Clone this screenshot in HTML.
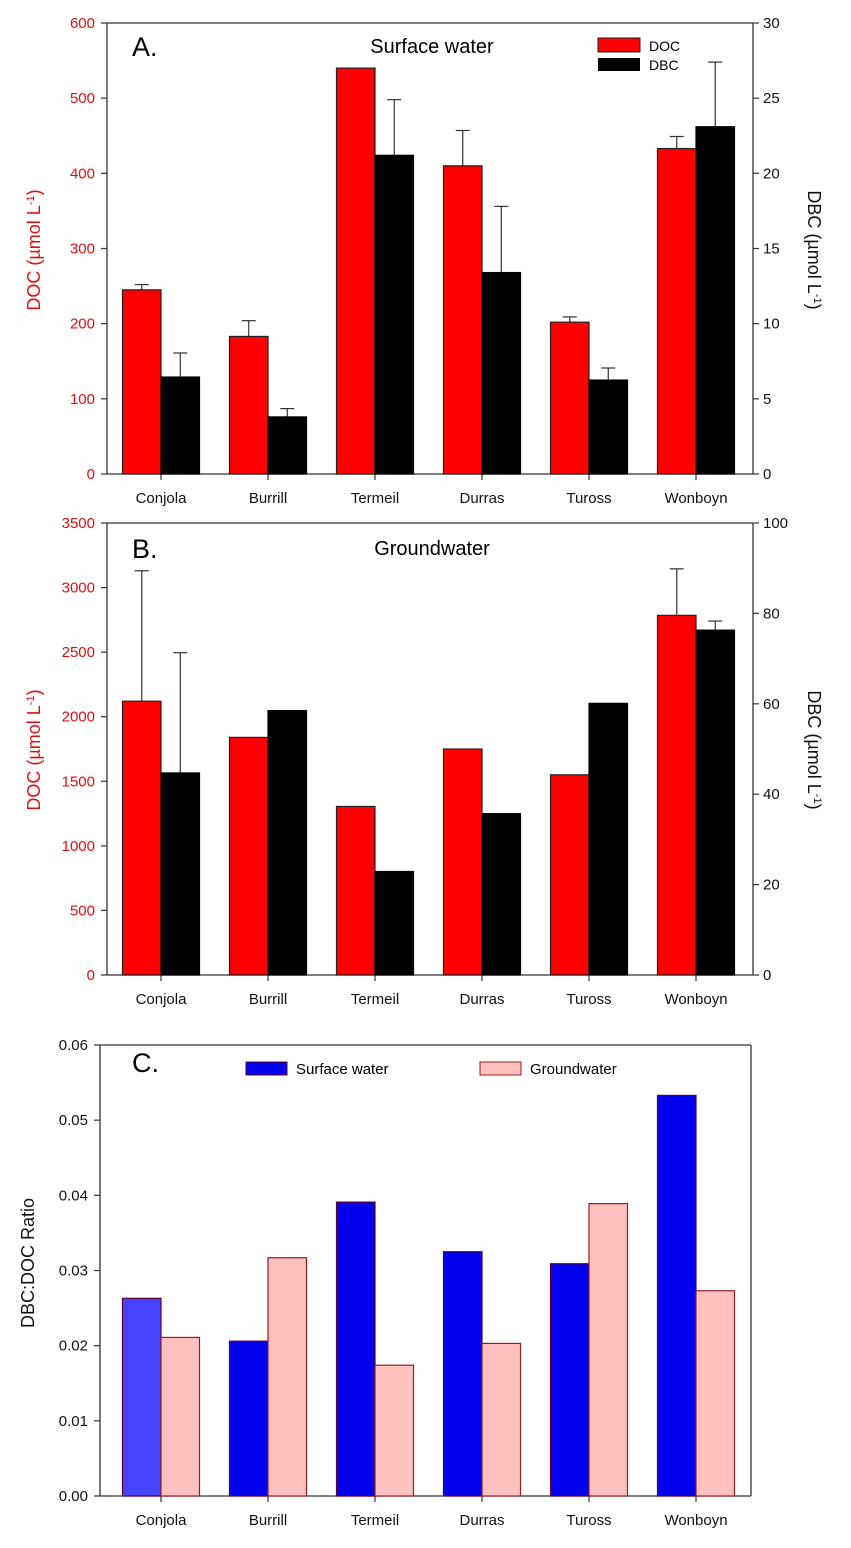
<!DOCTYPE html>
<html><head><meta charset="utf-8"><style>
body{margin:0;background:#fff;width:851px;height:1543px;overflow:hidden}
svg{font-family:"Liberation Sans",Arial,sans-serif}
</style></head><body>
<svg id="s" width="851" height="1543"></svg>
<script>
const categories=["Conjola","Burrill","Termeil","Durras","Tuross","Wonboyn"];
const surfDOC=[245,183,540,410,202,433];
const surfDOCerr=[252,204,null,457,209,449];
const surfDBC=[6.45,3.8,21.2,13.4,6.25,23.1];
const surfDBCerr=[8.05,4.35,24.9,17.8,7.05,27.4];
const gwDOC=[2120,1840,1305,1750,1550,2785];
const gwDOCerr=[3130,null,null,null,null,3145];
const gwDBC=[44.7,58.5,22.9,35.7,60.1,76.3];
const gwDBCerr=[71.3,null,null,null,null,78.3];
const ratioSurf=[0.0263,0.0206,0.0391,0.0325,0.0309,0.0533];
const ratioGw=[0.0211,0.0317,0.0174,0.0203,0.0389,0.0273];
const ticksA_L=[0,100,200,300,400,500,600];
const ticksA_R=[0,5,10,15,20,25,30];
const ticksB_L=[0,500,1000,1500,2000,2500,3000,3500];
const ticksB_R=[0,20,40,60,80,100];
const ticksC=["0.00","0.01","0.02","0.03","0.04","0.05","0.06"];

const S=document.getElementById('s');
const NS="http://www.w3.org/2000/svg";
function el(tag,at,txt){const e=document.createElementNS(NS,tag);for(const k in at)e.setAttribute(k,at[k]);if(txt!=null)e.textContent=txt;S.appendChild(e);return e;}

function panel(p){
  const {x0,x1,y0,y1}=p;
  const cx=i=>161+107*i;
  const yl=v=>y1-(v/p.lmax)*(y1-y0);
  const yr=v=>y1-(v/p.rmax)*(y1-y0);
  let a=el('line',{x1:x0,y1:y0,x2:x0,y2:y1,stroke:'#333','stroke-width':1.3});
  
  a=el('line',{x1:x0,y1:y1,x2:x1,y2:y1,stroke:'#333','stroke-width':1.3});
  
  a=el('line',{x1:x0,y1:y0,x2:x1,y2:y0,stroke:'#333','stroke-width':1.3});
  
  a=el('line',{x1:x1,y1:y0,x2:x1,y2:y1,stroke:'#333','stroke-width':1.3});
  
  p.lt.forEach(t=>{const v=parseFloat(t);const y=yl(v);
    el('line',{x1:x0-6,y1:y,x2:x0,y2:y,stroke:'#333','stroke-width':1.2});
    const tx=el('text',{x:x0-12,y:y+5,'text-anchor':'end','font-size':15,fill:p.lcol},t);
    });
  if(p.rt)p.rt.forEach(t=>{const y=yr(t);
    el('line',{x1:x1,y1:y,x2:x1+6,y2:y,stroke:'#333','stroke-width':1.2});
    const tx=el('text',{x:x1+10,y:y+5,'font-size':15,fill:'#111'},t);
    });
  categories.forEach((c,i)=>{
    el('line',{x1:cx(i),y1:y1,x2:cx(i),y2:y1+6,stroke:'#333','stroke-width':1.2});
    const tx=el('text',{x:cx(i),y:y1+29,'text-anchor':'middle','font-size':15,fill:'#111'},c);
    
  });
  const bw=38.5;
  categories.forEach((c,i)=>{
    const v1=p.s1[i],v2=p.s2[i];
    const ya=p.s1axis(v1), yb=p.s2axis(v2);
    if(p.e1&&p.e1[i]!=null){const ye=p.s1axis(p.e1[i]);const xm=cx(i)-bw/2;
      el('line',{x1:xm,y1:ya,x2:xm,y2:ye,stroke:'#333','stroke-width':1.2});
      el('line',{x1:xm-7,y1:ye,x2:xm+7,y2:ye,stroke:'#333','stroke-width':1.2});}
    if(p.e2&&p.e2[i]!=null){const ye=p.s2axis(p.e2[i]);const xm=cx(i)+bw/2;
      el('line',{x1:xm,y1:yb,x2:xm,y2:ye,stroke:'#333','stroke-width':1.2});
      el('line',{x1:xm-7,y1:ye,x2:xm+7,y2:ye,stroke:'#333','stroke-width':1.2});}
    let r=el('rect',{x:cx(i)-bw,y:ya,width:bw,height:y1-ya,fill:(p.c1first&&i==0)?p.c1first:p.c1,stroke:p.st1,'stroke-width':1.2});
    
    r=el('rect',{x:cx(i),y:yb,width:bw,height:y1-yb,fill:p.c2,stroke:p.st2,'stroke-width':1.2});
    
  });
}
panel({id:'panel-a',x0:107,x1:753,y0:23,y1:474,lmax:600,rmax:30,lt:ticksA_L,rt:ticksA_R,lcol:'#e01010',
 s1:surfDOC,s2:surfDBC,e1:surfDOCerr,e2:surfDBCerr,s1axis:v=>474-v/600*451,s2axis:v=>474-v/30*451,
 c1:'#ff0000',c2:'#000',st1:'#222',st2:'#000',n1:'doc',n2:'dbc'});
panel({id:'panel-b',x0:107,x1:753,y0:523,y1:975,lmax:3500,rmax:100,lt:ticksB_L,rt:ticksB_R,lcol:'#e01010',
 s1:gwDOC,s2:gwDBC,e1:gwDOCerr,e2:gwDBCerr,s1axis:v=>975-v/3500*452,s2axis:v=>975-v/100*452,
 c1:'#ff0000',c2:'#000',st1:'#222',st2:'#000',n1:'doc',n2:'dbc'});
panel({id:'panel-c',x0:100,x1:751,y0:1045,y1:1496,lmax:0.06,rmax:0.06,lt:ticksC,rt:null,lcol:'#111',
 s1:ratioSurf,s2:ratioGw,s1axis:v=>1496-v/0.06*451,s2axis:v=>1496-v/0.06*451,
 c1:'#0000ee',c1first:'#4444ff',c2:'#ffc0c0',st1:'#600030',st2:'#902020',n1:'surface',n2:'groundwater'});

function T(x,y,txt,at,name){const t=el('text',Object.assign({x:x,y:y},at),txt);return t;}
T(132,56,'A.',{'font-size':27},'panel-a-letter');
T(432,53,'Surface water',{'font-size':20,'text-anchor':'middle'},'panel-a-title');
T(132,558,'B.',{'font-size':27},'panel-b-letter');
T(432,555,'Groundwater',{'font-size':20,'text-anchor':'middle'},'panel-b-title');
T(132,1072,'C.',{'font-size':27},'panel-c-letter');
let r=el('rect',{x:598,y:38,width:42,height:14,fill:'#f00',stroke:'#222'});
r=el('rect',{x:598,y:58,width:42,height:13,fill:'#000'});
T(649,51,'DOC',{'font-size':14},'legend-doc-label');
T(649,70,'DBC',{'font-size':14},'legend-dbc-label');
r=el('rect',{x:246,y:1062,width:41,height:13,fill:'#0000ee',stroke:'#600030'});
r=el('rect',{x:480,y:1062,width:41,height:13,fill:'#ffc0c0',stroke:'#902020'});
T(296,1074,'Surface water',{'font-size':15},'legend-surface-label');
T(530,1074,'Groundwater',{'font-size':15},'legend-groundwater-label');
function V(x,y,txt,col,name,rot){const t=el('text',{x:0,y:0,'font-size':18,fill:col,'text-anchor':'middle',transform:`translate(${x},${y}) rotate(${rot})`});
 t.innerHTML=txt;}
V(40,250,'DOC (µmol L<tspan baseline-shift="super" font-size="11">-1</tspan>)','#e01010','panel-a-left-axis-title',-90);
V(808,250,'DBC (µmol L<tspan baseline-shift="super" font-size="11">-1</tspan>)','#111','panel-a-right-axis-title',90);
V(40,750,'DOC (µmol L<tspan baseline-shift="super" font-size="11">-1</tspan>)','#e01010','panel-b-left-axis-title',-90);
V(808,750,'DBC (µmol L<tspan baseline-shift="super" font-size="11">-1</tspan>)','#111','panel-b-right-axis-title',90);
V(34,1263,'DBC:DOC Ratio','#111','panel-c-y-axis-title',-90);
</script>
</body></html>
